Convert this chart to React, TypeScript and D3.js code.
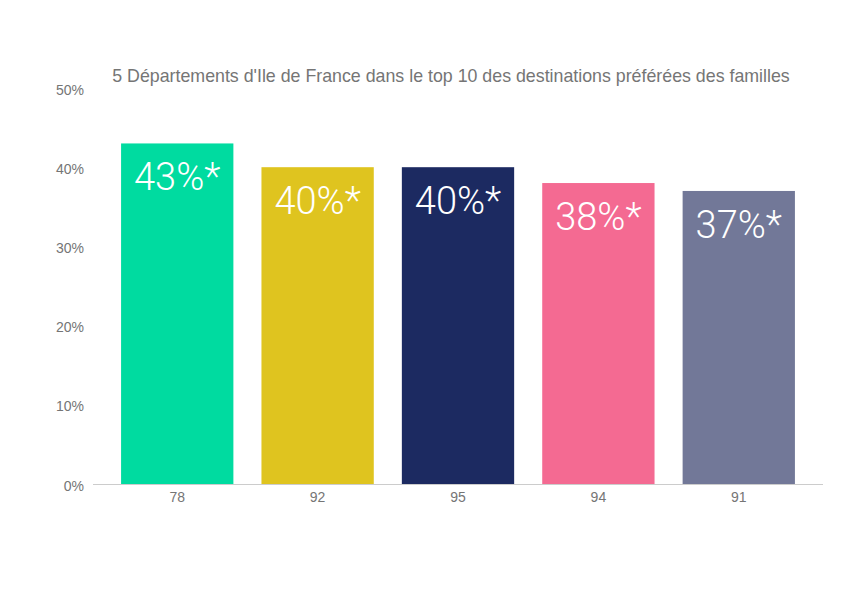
import { useMemo } from "react";
import * as d3 from "d3";

const departements = ["78", "92", "95", "94", "91"];
const shares = [43, 40, 40, 38, 37];
const barColors = ["#00dba0", "#dfc41f", "#1c2a61", "#f46a92", "#727898"];
const yTicks = [0, 10, 20, 30, 40, 50];
const title = "5 Départements d'Ile de France dans le top 10 des destinations préférées des familles";

const width = 850;
const height = 600;

function App() {
  const x = useMemo(
    () => d3.scaleBand<string>().domain(departements).range([93, 823]).paddingInner(0.2).paddingOuter(0.2),
    []
  );
  const y = useMemo(() => d3.scaleLinear().domain([0, 50]).range([484, 88]), []);

  return (
    <svg width={width} height={height} style={{ display: "block", margin: "-8px" }}>
      <rect width={width} height={height} fill="#fff" />
      <text x={451} y={82} textAnchor="middle" fontFamily="Liberation Sans, Arial, sans-serif" fontSize={17.8} fill="#757575">
        {title}
      </text>
      {yTicks.map((t) => (
        <text
          key={t}
          x={84}
          y={y(t) + 6.5}
          textAnchor="end"
          fontFamily="Liberation Sans, Arial, sans-serif"
          fontSize={14}
          fill="#757575"
        >
          {`${t}%`}
        </text>
      ))}
      {departements.map((d, i) => {
        const bx = x(d) ?? 0;
        const by = y(shares[i]);
        return (
          <g key={d}>
            <rect x={bx} y={by} width={x.bandwidth()} height={y(0) - by} fill={barColors[i]} />
            <text
              x={bx + x.bandwidth() / 2}
              y={by + 47}
              textAnchor="middle"
              fontFamily="Roboto, sans-serif"
              fontWeight={300}
              fontSize={38}
              fill="#fff"
            >
              {`${shares[i]}%*`}
            </text>
            <text
              x={bx + x.bandwidth() / 2}
              y={502}
              textAnchor="middle"
              fontFamily="Liberation Sans, Arial, sans-serif"
              fontSize={14}
              fill="#757575"
            >
              {d}
            </text>
          </g>
        );
      })}
      <line x1={93} x2={823} y1={484.5} y2={484.5} stroke="#cccccc" strokeWidth={1} />
    </svg>
  );
}

export default App;
